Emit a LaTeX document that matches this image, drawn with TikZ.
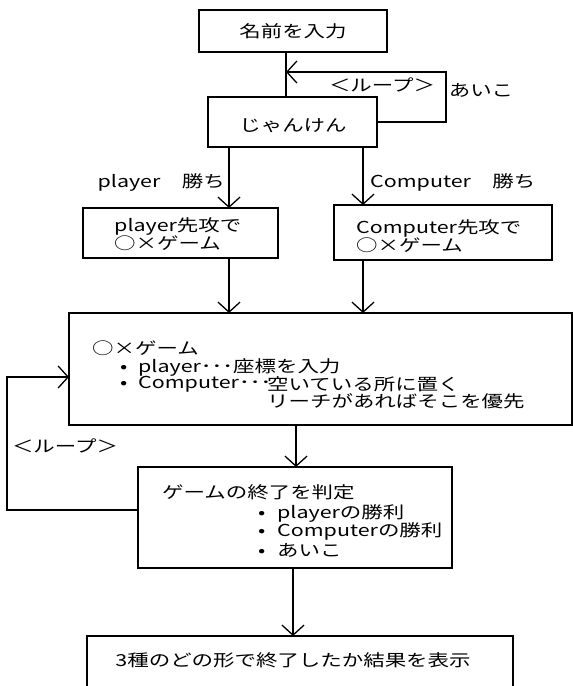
\documentclass[tikz,border=0pt]{standalone}
\usepackage{fontspec}
\newfontfamily\jp[FakeStretch=1.3]{Noto Sans CJK JP}
\usetikzlibrary{arrows.meta}
\begin{document}
\begin{tikzpicture}[x=1pt,y=-1pt,
  box/.style={draw, line width=1.5pt, inner sep=0pt, outer sep=0pt, anchor=north west},
  txt/.style={font=\jp\fontsize{16.5}{18}\selectfont, inner sep=0pt},
  ltxt/.style={txt, anchor=west, align=left},
  conn/.style={line width=1.5pt},
  arr/.style={conn, -{Straight Barb[length=10pt,width=22pt,line width=1.3pt]}}]
\clip (0,0) rectangle (573,686);
\fill[white] (0,0) rectangle (573,686);

% boxes
\node[box, minimum width=188, minimum height=42] (b1) at (199,10) {};
\node[box, minimum width=169, minimum height=50] (b2) at (208,97) {};
\node[box, minimum width=195, minimum height=50] (b3) at (83,208) {};
\node[box, minimum width=218, minimum height=55] (b4) at (334,205) {};
\node[box, minimum width=503, minimum height=112] (b5) at (69,313) {};
\node[box, minimum width=314, minimum height=101] (b6) at (138,467) {};
\node[box, minimum width=426, minimum height=90] (b7) at (87,636) {};

% texts in boxes
\node[txt] (t1) at (293,31) {名前を入力};
\node[txt] (t2) at (293,126) {じゃんけん};
\node[ltxt] (t3) at (114,234) {player先攻で\\○×ゲーム};
\node[ltxt] (t4) at (356,236) {Computer先攻で\\○×ゲーム};
\node[ltxt] (t51) at (92,348) {○×ゲーム};
\node[ltxt] (t52) at (120,367) {\makebox[18pt][l]{•}player･･･座標を入力};
\node[ltxt] (t53) at (120,384) {\makebox[18pt][l]{•}Computer･･･};
\node[ltxt] (t54) at (267,384) {空いている所に置く};
\node[ltxt] (t55) at (267,401) {リーチがあればそこを優先};
\node[ltxt] (t61) at (162,492) {ゲームの終了を判定};
\node[ltxt] (t62) at (258,513) {\makebox[19pt][l]{•}playerの勝利};
\node[ltxt] (t63) at (258,531) {\makebox[19pt][l]{•}Computerの勝利};
\node[ltxt] (t64) at (258,550) {\makebox[19pt][l]{•}あいこ};
\node[txt] (t7) at (293,660) {3種のどの形で終了したか結果を表示};

% labels
\node[txt] (l1) at (382,85) {＜ループ＞};
\node[txt] (l2) at (481,90) {あいこ};
\node[txt, anchor=east] (l3) at (225,182) {player　勝ち};
\node[txt, anchor=west] (l4) at (370,182) {Computer　勝ち};
\node[txt] (l5) at (65,446) {＜ループ＞};

% connector coordinates
\coordinate (c1) at (286,0);
\coordinate (c2) at (229,0);
\coordinate (c3) at (363,0);
\coordinate (c4) at (296,0);
\coordinate (c5) at (293,0);
\coordinate (k1) at (286,72);
\coordinate (k2) at (446,72);
\coordinate (k3) at (7,510);
\coordinate (k4) at (7,377);

% connectors
\draw[conn] (b1.south -| c1) -- (b2.north -| c1);
\draw[arr] (b2.east) -| (k2) -- (k1);
\draw[arr] (b2.south -| c2) -- (b3.north -| c2);
\draw[arr] (b2.south -| c3) -- (b4.north -| c3);
\draw[arr] (b3.south -| c2) -- (b5.north -| c2);
\draw[arr] (b4.south -| c3) -- (b5.north -| c3);
\draw[arr] (b5.south -| c4) -- (b6.north -| c4);
\draw[arr] (b6.west |- k3) -- (k3) -- (k4) -- (b5.west |- k4);
\draw[arr] (b6.south -| c5) -- (b7.north -| c5);
\end{tikzpicture}
\end{document}
